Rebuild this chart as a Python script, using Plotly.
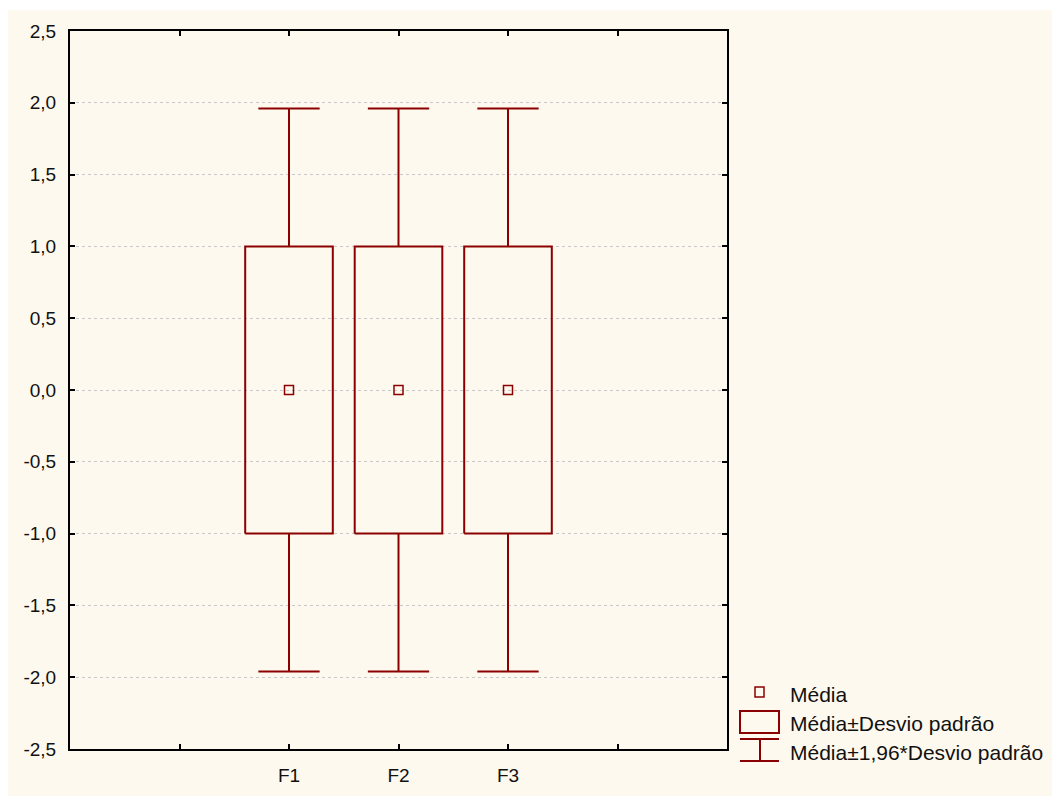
import plotly.graph_objects as go

# Summary statistics per variable
categories = ["F1", "F2", "F3"]
means = [0.0, 0.0, 0.0]
std_devs = [1.0, 1.0, 1.0]
z_factor = 1.96

# Axis ticks
y_ticks = [-2.5, -2.0, -1.5, -1.0, -0.5, 0.0, 0.5, 1.0, 1.5, 2.0, 2.5]
y_tick_labels = ["-2,5", "-2,0", "-1,5", "-1,0", "-0,5", "0,0", "0,5", "1,0", "1,5", "2,0", "2,5"]
x_positions = [2, 3, 4]
x_tick_vals = [1, 2, 3, 4, 5]
x_tick_labels = ["", "F1", "F2", "F3", ""]

legend_labels = ["Média", "Média±Desvio padrão", "Média±1,96*Desvio padrão"]

RED = "#8B0000"
BG = "#FEF9EF"
FONT = "Liberation Sans, Arial, sans-serif"
box_half = 0.4
cap_half = 0.28

fig = go.Figure()

for xp, m, s in zip(x_positions, means, std_devs):
    lo, hi = m - s, m + s
    wlo, whi = m - z_factor * s, m + z_factor * s
    # whiskers with caps (upper and lower)
    fig.add_trace(go.Scatter(
        x=[xp, xp, None, xp - cap_half, xp + cap_half, None,
           xp, xp, None, xp - cap_half, xp + cap_half],
        y=[hi, whi, None, whi, whi, None,
           lo, wlo, None, wlo, wlo],
        mode="lines", line=dict(color=RED, width=2),
        hoverinfo="skip", showlegend=False))
    # mean ± SD box
    fig.add_trace(go.Scatter(
        x=[xp - box_half, xp + box_half, xp + box_half, xp - box_half, xp - box_half],
        y=[lo, lo, hi, hi, lo],
        mode="lines", line=dict(color=RED, width=2),
        hoverinfo="skip", showlegend=False))

# mean markers
fig.add_trace(go.Scatter(
    x=x_positions, y=means, mode="markers",
    marker=dict(symbol="square-open", size=9, color=RED, line=dict(width=1.5, color=RED)),
    showlegend=False))

# cream outer background with a thin white margin at top and left
fig.add_shape(type="rect", xref="paper", yref="paper",
              x0=-62 / 657, x1=1.6, y0=-0.2, y1=(749 - 10) / 718,
              fillcolor=BG, line=dict(width=0), layer="below")

# hand-drawn legend
def px_x(p):
    return (p - 70) / 657

def px_y(p):
    return (749 - p) / 718

fig.add_shape(type="rect", xref="paper", yref="paper",
              x0=px_x(755), x1=px_x(764), y0=px_y(697), y1=px_y(687),
              line=dict(color=RED, width=1.5), fillcolor="rgba(0,0,0,0)")
fig.add_shape(type="rect", xref="paper", yref="paper",
              x0=px_x(740), x1=px_x(779), y0=px_y(733), y1=px_y(711),
              line=dict(color=RED, width=2), fillcolor="rgba(0,0,0,0)")
for y0, y1, xa, xb in [(739, 739, 740, 779), (761, 761, 740, 779), (739, 761, 760, 760)]:
    fig.add_shape(type="line", xref="paper", yref="paper",
                  x0=px_x(xa), x1=px_x(xb), y0=px_y(y0), y1=px_y(y1),
                  line=dict(color=RED, width=2))
for label, yc in zip(legend_labels, [694, 723, 752]):
    fig.add_annotation(xref="paper", yref="paper", x=px_x(788), y=px_y(yc),
                       text=label, showarrow=False, xanchor="left", yanchor="middle",
                       font=dict(family=FONT, size=21, color="#111111"))

fig.update_layout(
    width=1052, height=796,
    margin=dict(l=70, r=325, t=31, b=47),
    paper_bgcolor="white", plot_bgcolor="white",
    font=dict(family=FONT, size=19, color="#111111"),
    showlegend=False,
)
fig.update_xaxes(range=[0, 6], tickvals=x_tick_vals, ticktext=x_tick_labels,
                 tickfont=dict(size=19), automargin=False,
                 showgrid=False, zeroline=False, showline=True, linecolor="black",
                 linewidth=2, mirror="ticks", ticks="inside", ticklen=5,
                 tickwidth=1.5, tickcolor="black", ticklabelstandoff=8)
fig.update_yaxes(range=[-2.5, 2.5], tickvals=y_ticks, ticktext=y_tick_labels,
                 tickfont=dict(size=19), automargin=False,
                 showgrid=True, gridcolor="#C8C8C8", gridwidth=1, griddash="dot",
                 zeroline=False, showline=True, linecolor="black",
                 linewidth=2, mirror="ticks", ticks="inside", ticklen=5,
                 tickwidth=1.5, tickcolor="black", ticklabelstandoff=8)

fig.write_html("out.html")
